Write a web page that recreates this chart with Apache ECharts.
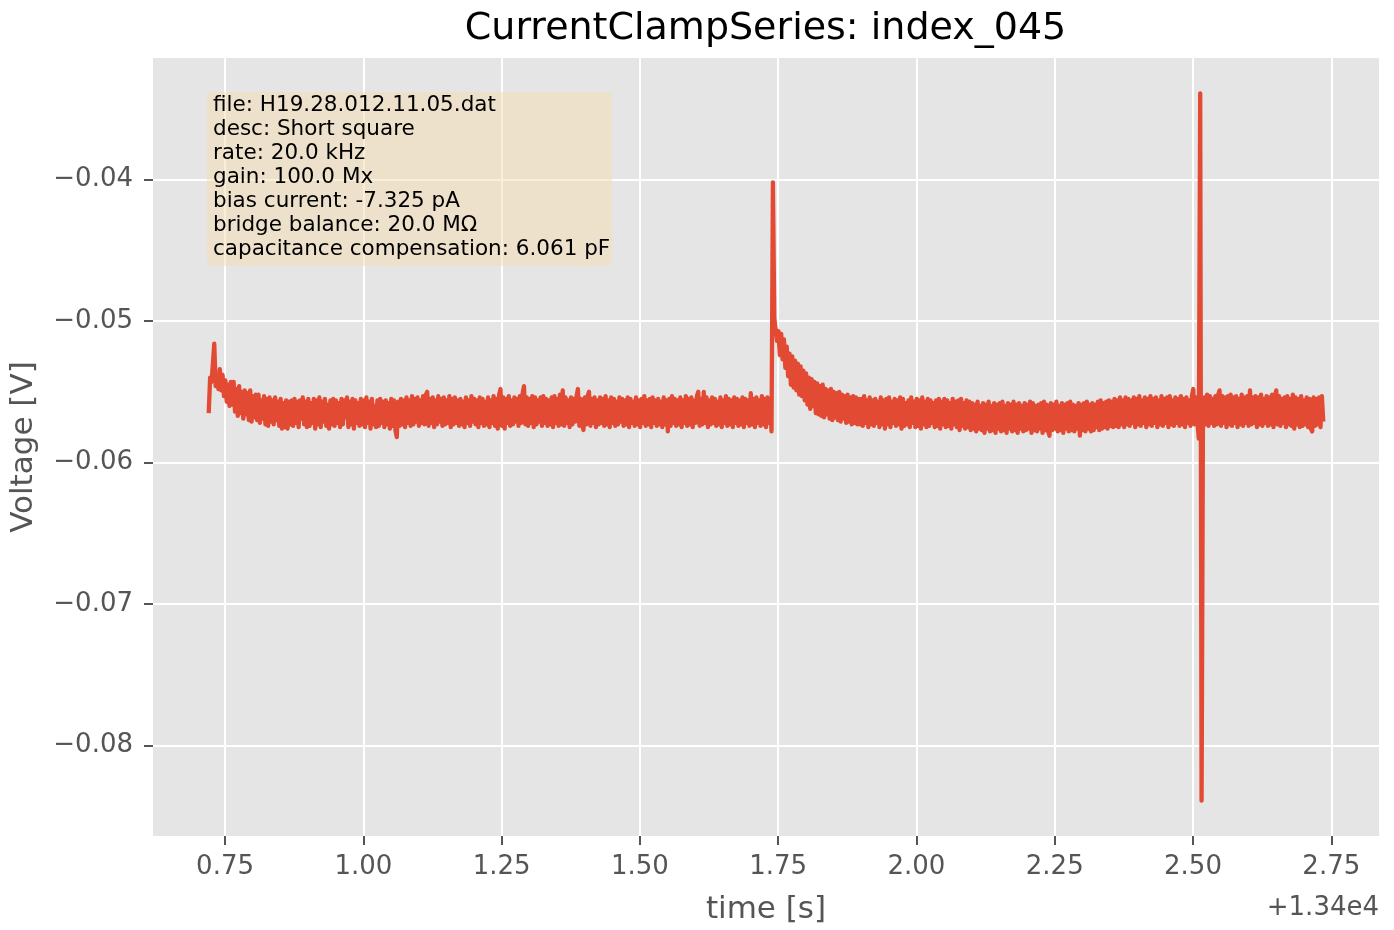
<!DOCTYPE html>
<html>
<head>
<meta charset="utf-8">
<title>CurrentClampSeries: index_045</title>
<script src="https://cdn.jsdelivr.net/npm/echarts@6/dist/echarts.min.js"></script>
<style>
  html, body { margin: 0; padding: 0; background: #ffffff; }
  #chart { width: 1394px; height: 930px; }
</style>
</head>
<body>
<div id="chart"></div>
<script>
// ---- data -------------------------------------------------------------
const TITLE = 'CurrentClampSeries: index_045';
const X_NAME = 'time [s]';
const Y_NAME = 'Voltage [V]';

const TIME_OFFSET = 13400;        // axis offset, printed as "+1.34e4"
const OFFSET_LABEL = '+1.34e4';
const SAMPLE_START = 13400.7205;  // s, first plotted sample
const SAMPLE_STEP = 0.0025;       // s between plotted samples

// membrane voltage, mV, one value per plotted sample
const voltageMv = [
  // onset transient
  -56.5, -54.0, -54.3, -53.0, -51.6, -54.6, -54.0, -54.8, -53.4, -54.9,
  -53.8, -55.3, -54.2, -55.7, -54.5, -56.0, -54.3, -55.9, -54.3, -56.4,
  -54.8, -56.7, -54.6, -56.5, -55.0, -56.9, -54.9, -56.6, -55.1, -57.0,
  -54.9, -57.1, -55.3, -56.8, -55.2, -57.0, -55.2, -57.2, -55.6, -56.9,
  -55.3, -57.3, -55.5, -57.4, -55.4, -57.1, -55.6, -57.3, -55.4, -57.0,
  -55.7, -57.4, -55.5, -57.6, -55.8, -57.5, -55.6, -57.6, -55.7, -57.3,
  -55.6,
  // resting baseline
  -57.4, -55.5, -57.2, -55.7, -57.5, -55.6, -56.9, -55.4, -57.3, -55.7,
  -57.5, -55.5, -57.4, -55.8, -57.2, -55.5, -57.6, -55.6, -57.3, -55.4,
  -57.5, -55.7, -57.1, -55.5, -57.4, -55.9, -57.6, -55.6, -57.3, -55.5,
  -57.4, -55.6, -57.2, -55.8, -57.5, -55.5, -57.3, -55.6, -56.8, -55.4,
  -57.5, -55.7, -57.3, -55.5, -57.6, -55.6, -57.2, -55.8, -57.4, -55.5,
  -57.3, -55.6, -57.5, -55.4, -57.2, -55.7, -57.6, -55.5, -57.3, -56.0,
  -57.5, -55.6, -57.4, -55.5, -57.2, -55.7, -57.5, -55.6, -57.3, -55.8,
  -57.6, -55.5, -57.4, -55.6, -57.7, -58.2, -55.7, -57.4, -55.5, -57.3,
  -55.6, -57.5, -55.4, -57.2, -55.6, -57.4, -55.3, -57.3, -55.5, -57.1,
  -55.4, -57.4, -55.6, -57.2, -55.3, -57.3, -55.2, -55.0, -57.4, -55.5,
  -57.2, -55.4, -57.5, -55.6, -57.3, -55.3, -57.1, -55.5, -57.4, -55.4,
  -57.3, -55.6, -57.2, -55.3, -57.5, -55.5, -57.3, -55.4, -57.2, -55.6,
  -57.4, -55.5, -57.3, -55.7, -57.5, -55.4, -57.2, -55.6, -57.4, -55.3,
  -57.1, -55.5, -57.3, -55.6, -57.5, -55.4, -57.2, -55.5, -57.4, -55.7,
  -57.3, -55.4, -57.5, -55.6, -57.2, -55.3, -57.4, -55.5, -57.6, -55.2,
  -54.8, -57.4, -55.4, -57.6, -55.5, -57.2, -55.3, -57.4, -55.6, -57.3,
  -55.4, -57.1, -55.5, -57.4, -55.3, -57.2, -55.1, -54.6, -57.3, -55.4,
  -57.4, -55.5, -57.2, -55.3, -57.5, -55.4, -57.3, -55.6, -57.1, -55.4,
  -57.4, -55.3, -57.2, -55.5, -57.4, -55.6, -57.3, -55.4, -57.5, -55.3,
  -57.2, -55.5, -57.4, -55.2, -57.3, -54.9, -57.4, -55.4, -57.2, -55.6,
  -57.5, -55.4, -57.3, -55.5, -57.1, -55.3, -54.8, -57.4, -55.5, -57.3,
  -57.7, -55.4, -57.3, -55.3, -55.0, -57.4, -55.5, -57.2, -55.4, -57.5,
  -55.6, -57.3, -55.4, -57.2, -55.5, -57.4, -55.3, -57.3, -55.6, -57.5,
  -55.4, -57.2, -55.5, -57.4, -55.7, -57.3, -55.4, -57.1, -55.5, -57.4,
  -55.6, -57.3, -55.4, -57.5, -55.5, -57.2, -55.7, -57.4, -55.4, -57.3,
  -55.6, -57.5, -55.5, -57.2, -55.3, -57.4, -55.6, -57.3, -55.5, -57.5,
  -55.4, -57.2, -55.6, -57.4, -55.5, -57.3, -55.7, -57.5, -55.4, -57.3,
  -55.6, -57.8, -55.5, -57.4, -55.3, -57.2, -55.5, -57.4, -55.6, -57.3,
  -55.4, -57.5, -55.6, -57.2, -55.3, -57.4, -55.5, -57.3, -55.4, -57.5,
  -55.6, -57.2, -55.3, -55.0, -57.4, -55.5, -57.3, -55.0, -57.2, -55.4,
  -57.5, -55.6, -57.3, -55.4, -57.2, -55.5, -57.4, -55.7, -57.3, -55.4,
  -57.5, -55.6, -57.2, -55.3, -57.4, -55.5, -57.3, -55.6, -57.5, -55.4,
  -57.2, -55.5, -57.4, -55.6, -57.3, -55.4, -57.5, -55.5, -57.2, -55.6,
  -57.4, -55.1, -57.3, -55.5, -57.5, -55.4, -57.2, -55.6, -57.4, -55.3,
  -57.3, -55.5, -57.5, -55.4, -57.2, -55.6,
  -57.8,
  // first spike and its decay
  -40.2,
  -49.8, -50.6, -51.4, -50.7, -52.4, -50.9, -52.7, -51.3, -53.3, -51.8,
  -53.9, -52.3, -54.5, -52.5, -54.7, -52.8, -54.9, -53.0, -55.2, -53.2,
  -55.3, -53.5, -55.6, -53.7, -55.9, -54.0, -56.2, -54.1, -56.0, -54.3,
  -56.5, -54.4, -56.6, -54.6, -56.7, -54.5, -56.8, -54.8, -56.6, -54.9,
  -56.9, -54.8, -57.0, -55.0, -56.8, -55.1, -57.0, -55.0, -57.1, -55.2,
  -56.9, -55.3, -57.2, -55.2, -57.1, -55.4, -57.3, -55.3, -57.2, -55.4,
  -57.3, -55.5,
  // baseline between the two events
  -57.3, -55.5, -57.4, -55.3, -57.2, -55.6, -57.5, -55.4, -57.3, -55.6,
  -57.4, -55.5, -57.2, -55.7, -57.5, -55.4, -57.3, -55.6, -57.6, -55.5,
  -57.3, -55.4, -57.5, -55.7, -57.2, -55.5, -57.4, -55.6, -57.3, -55.4,
  -57.6, -55.5, -57.4, -55.8, -57.3, -55.6, -57.5, -55.4, -57.2, -55.7,
  -57.5, -55.5, -57.4, -55.6, -57.6, -55.4, -57.3, -55.7, -57.5, -55.5,
  -57.4, -55.6, -57.2, -55.8, -57.5, -55.6, -57.4, -55.5, -57.6, -55.7,
  -57.3, -55.5, -57.5, -55.6, -57.4, -55.8, -57.6, -55.5, -57.3, -55.7,
  -57.5, -55.6, -57.7, -55.5, -57.4, -55.8, -57.6, -55.6, -57.5, -55.7,
  -57.7, -55.8, -57.6, -55.9, -57.8, -55.7, -57.6, -56.0, -57.7, -55.8,
  -57.9, -55.9, -57.6, -55.7, -57.8, -56.0, -57.7, -55.8, -57.9, -55.9,
  -57.6, -55.8, -57.8, -55.7, -57.7, -56.0, -57.9, -55.8, -57.6, -55.9,
  -57.8, -55.7, -57.7, -55.9, -57.9, -55.8, -57.6, -56.0, -57.8, -55.8,
  -57.7, -55.9, -57.6, -55.7, -57.9, -55.8, -57.7, -56.0, -57.8, -55.9,
  -57.6, -55.8, -57.9, -55.7, -57.7, -55.9, -57.8, -58.1, -55.8, -57.7,
  -55.9, -57.6, -55.7, -57.8, -56.0, -57.7, -55.8, -57.9, -55.9, -57.6,
  -55.8, -57.8, -55.7, -57.7, -55.9, -57.8, -56.0, -57.6, -55.8, -58.1,
  -55.9, -57.7, -55.8, -57.8, -55.7, -57.6, -55.9, -57.8, -55.8, -57.7,
  -55.9, -57.5, -55.7, -57.7, -55.6, -57.6, -55.8, -57.5, -55.7, -57.6,
  -55.6, -57.4, -55.7, -57.5, -55.5, -57.4, -55.6, -57.5, -55.4, -57.3,
  -55.6, -57.5, -55.4, -57.3, -55.5, -57.4, -55.6, -57.2, -55.4, -57.5,
  -55.5, -57.3, -55.3, -57.4, -55.6, -57.2, -55.4, -57.5, -55.5, -57.3,
  -55.3, -57.4, -55.5, -57.2, -55.4, -57.5, -55.6, -57.3, -55.3, -57.4,
  -55.5, -57.2, -55.4, -57.5, -55.3, -57.3, -55.6, -57.4, -55.4, -57.2,
  -55.5, -57.4, -55.3, -57.3, -55.5, -57.5, -55.4, -57.2, -55.6, -57.4,
  -55.3, -54.8, -57.3, -55.4, -57.2,
  // second, biphasic event
  -58.3, -33.9, -83.9, -56.7,
  // trailing baseline
  -55.4, -57.3, -55.2, -57.4, -55.3, -57.2, -55.5, -57.4, -55.3, -57.3,
  -55.2, -54.9, -57.4, -55.3, -57.2, -55.4, -57.5, -55.3, -57.3, -55.2,
  -57.4, -55.4, -57.2, -55.3, -57.5, -55.5, -57.3, -55.2, -57.4, -55.4,
  -57.2, -55.3, -57.4, -54.9, -57.3, -55.4, -57.2, -55.3, -57.5, -55.4,
  -57.3, -55.2, -57.4, -55.5, -57.2, -55.3, -57.4, -55.4, -57.3, -55.2,
  -57.5, -55.4, -54.9, -57.3, -55.3, -57.4, -55.5, -57.2, -55.4, -57.5,
  -55.3, -57.3, -55.5, -57.4, -55.2, -57.6, -55.4, -57.3, -55.5, -57.5,
  -55.3, -57.4, -55.6, -57.3, -55.4, -57.5, -55.5, -57.6, -57.8, -55.4,
  -57.4, -55.5, -57.3, -55.4, -57.5, -55.3, -57.1
];

const xTickValues = [0.75, 1.00, 1.25, 1.50, 1.75, 2.00, 2.25, 2.50, 2.75];
const yTickValues = [-0.08, -0.07, -0.06, -0.05, -0.04];

const infoLines = [
  'file: H19.28.012.11.05.dat',
  'desc: Short square',
  'rate: 20.0 kHz',
  'gain: 100.0 Mx',
  'bias current: -7.325 pA',
  'bridge balance: 20.0 M\u03A9',
  'capacitance compensation: 6.061 pF'
];

// ---- layout & style ---------------------------------------------------
const W = 1394, H = 930;
const PLOT = { left: 152, right: 1379, top: 58, bottom: 842 };
const FONT = "'DejaVu Sans', 'Liberation Sans', sans-serif";
const TRACE_COLOR = '#E24A33';
const TICK_COLOR = '#555555';

const points = voltageMv.map((mv, i) => [SAMPLE_START + i * SAMPLE_STEP, mv / 1000]);

// axis limits: data extent with 5 % margin on each side
function paddedExtent(values) {
  let lo = Infinity, hi = -Infinity;
  values.forEach(v => { if (v < lo) lo = v; if (v > hi) hi = v; });
  const pad = (hi - lo) * 0.05;
  return [lo - pad, hi + pad];
}
const xExtent = paddedExtent(points.map(p => p[0]));
const yExtent = paddedExtent(points.map(p => p[1]));

const minus = s => s.replace('-', '\u2212');
const plotCx = (PLOT.left + PLOT.right) / 2;

const chart = echarts.init(document.getElementById('chart'), null, { renderer: 'canvas', width: W, height: H });

chart.setOption({
  animation: false,
  backgroundColor: '#ffffff',
  textStyle: { fontFamily: FONT },
  grid: {
    left: PLOT.left,
    right: W - PLOT.right,
    top: PLOT.top,
    bottom: H - PLOT.bottom,
    show: true,
    backgroundColor: '#E5E5E5',
    borderWidth: 0
  },
  xAxis: {
    type: 'value',
    min: xExtent[0],
    max: xExtent[1],
    name: X_NAME,
    nameLocation: 'middle',
    nameGap: 58,
    nameTextStyle: { fontFamily: FONT, fontSize: 31, color: TICK_COLOR },
    axisLine: { show: false },
    axisTick: {
      show: true, length: 9, inside: false,
      customValues: xTickValues.map(v => TIME_OFFSET + v),
      lineStyle: { color: TICK_COLOR, width: 2 }
    },
    axisLabel: {
      customValues: xTickValues.map(v => TIME_OFFSET + v),
      formatter: v => (v - TIME_OFFSET).toFixed(2),
      fontFamily: FONT, fontSize: 26, color: TICK_COLOR, margin: 18
    },
    splitLine: { show: true, lineStyle: { color: '#ffffff', width: 2 } }
  },
  yAxis: {
    type: 'value',
    min: yExtent[0],
    max: yExtent[1],
    name: Y_NAME,
    nameLocation: 'middle',
    nameGap: 114,
    nameTextStyle: { fontFamily: FONT, fontSize: 31, color: TICK_COLOR },
    axisLine: { show: false },
    axisTick: {
      show: true, length: 9, inside: false,
      customValues: yTickValues,
      lineStyle: { color: TICK_COLOR, width: 2 }
    },
    axisLabel: {
      customValues: yTickValues,
      formatter: v => minus(v.toFixed(2)),
      fontFamily: FONT, fontSize: 26, color: TICK_COLOR, margin: 20
    },
    splitLine: { show: true, lineStyle: { color: '#ffffff', width: 2 } }
  },
  series: [{
    type: 'line',
    data: points,
    showSymbol: false,
    symbol: 'none',
    clip: true,
    lineStyle: { color: TRACE_COLOR, width: 4.3, join: 'round', cap: 'butt' },
    emphasis: { disabled: true },
    silent: true,
    z: 3
  }],
  graphic: [
    {
      type: 'text', x: plotCx, y: 29, z: 20,
      style: {
        text: TITLE, fill: '#000000',
        font: `38px ${FONT}`,
        textAlign: 'center', textVerticalAlign: 'middle'
      }
    },
    {
      type: 'text', x: PLOT.right, y: 908, z: 20,
      style: {
        text: OFFSET_LABEL, fill: TICK_COLOR,
        font: `26px ${FONT}`,
        textAlign: 'right', textVerticalAlign: 'middle'
      }
    },
    {
      type: 'rect', z: 20,
      shape: { x: 207, y: 92, width: 405, height: 174, r: 5 },
      style: { fill: 'rgba(245, 222, 179, 0.5)' }
    },
    {
      type: 'text', x: 213, y: 93, z: 21,
      style: {
        text: infoLines.join('\n'), fill: '#000000',
        font: `21.5px ${FONT}`, lineHeight: 24,
        textAlign: 'left', textVerticalAlign: 'top'
      }
    }
  ]
});
</script>
</body>
</html>
